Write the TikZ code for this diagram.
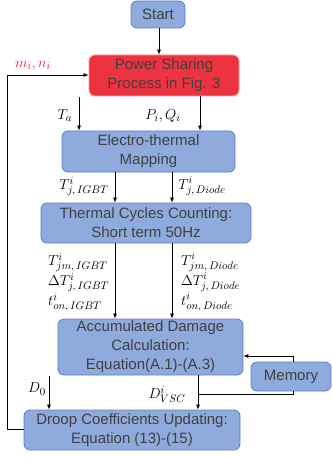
\documentclass[tikz,border=0pt]{standalone}
\usepackage{fontspec}
\setmainfont{Liberation Sans}
\usetikzlibrary{arrows.meta}
\definecolor{boxblue}{HTML}{8FAADC}
\definecolor{edgeblue}{HTML}{5B7FC4}
\definecolor{boxred}{HTML}{EE3340}
\definecolor{edgered}{HTML}{F59A9A}
\definecolor{txt}{HTML}{404040}
\definecolor{lblred}{HTML}{E8202C}
\tikzset{
  x=1pt, y=-1pt,
  blk/.style={draw=edgeblue, fill=boxblue, rounded corners=6pt, line width=0.8pt,
    text=txt, align=center, inner sep=0pt, font=\fontsize{15}{19}\selectfont},
  redblk/.style={blk, draw=edgered, fill=boxred},
  conn/.style={line width=0.7pt, -{Latex[length=5pt,width=4pt]}},
  plain/.style={line width=0.7pt},
  lbl/.style={inner sep=0pt, font=\fontsize{15.5}{20}\selectfont},
  stack/.style={lbl, align=left, anchor=west},
}
\begin{document}
\begin{tikzpicture}
\useasboundingbox (0,0) rectangle (332,457);
\node[blk, minimum width=54pt, minimum height=27pt] (start) at (158,14.5) {Start};
\node[redblk, minimum width=150pt, minimum height=41pt] (ps) at (164,75.5) {Power Sharing\\Process in Fig. 3};
\node[blk, minimum width=173pt, minimum height=41pt] (et) at (148.5,151.5) {Electro-thermal\\Mapping};
\node[blk, minimum width=210pt, minimum height=40pt] (tcc) at (146,223) {Thermal Cycles Counting:\\Short term 50Hz};
\node[blk, minimum width=185pt, minimum height=56pt] (adc) at (150.5,347) {Accumulated Damage\\Calculation:\\Equation(A.1)-(A.3)};
\node[blk, minimum width=80pt, minimum height=29pt] (mem) at (291,376.5) {Memory};
\node[blk, minimum width=216pt, minimum height=40pt] (dr) at (132,430) {Droop Coefficients Updating:\\Equation (13)-(15)};

\coordinate (ta) at (79,97);
\coordinate (d0) at (49,376);
\coordinate (fbl) at (7,429);
\coordinate (fbt) at (7,75);
\coordinate (memtop) at (293,356);
\coordinate (membot) at (293,394);
\coordinate (join) at (198,394);

\draw[conn] (start.south -| 159,0) -- (ps.north -| 159,0);
\draw[conn] (ta) -- (et.north -| ta);
\draw[conn] (ps.south -| 200,0) -- (et.north -| 200,0);
\draw[conn] (et.south -| 115,0) -- (tcc.north -| 115,0);
\draw[conn] (et.south -| 172,0) -- (tcc.north -| 172,0);
\draw[conn] (tcc.south -| 115,0) -- (adc.north -| 115,0);
\draw[conn] (tcc.south -| 172,0) -- (adc.north -| 172,0);
\draw[conn] (adc.south -| join) -- (dr.north -| join);
\draw[conn] (d0) -- (dr.north -| d0);
\draw[conn] (mem.north -| memtop) -- (memtop) -- (adc.east |- memtop);
\draw[plain] (mem.south -| membot) -- (membot) -- (join);
\draw[conn] (dr.west |- fbl) -- (fbl) -- (fbt) -- (ps.west |- fbt);

\node[lbl, text=lblred] (mn) at (33,66) {$m_i,n_i$};
\node[lbl] (tal) at (65,116) {$T_a$};
\node[lbl] (pq) at (163,116) {$P_i,Q_i$};
\node[lbl] (tji) at (84,186) {$T^{i}_{j,\,IGBT}$};
\node[lbl] (tjd) at (202,186) {$T^{i}_{j,\,Diode}$};
\node[stack] (lstack) at (48,282) {$T^{i}_{jm,\,IGBT}$\\$\Delta T^{i}_{j,\,IGBT}$\\$t^{i}_{on,\,IGBT}$};
\node[stack] (rstack) at (181,282) {$T^{i}_{jm,\,Diode}$\\$\Delta T^{i}_{j,\,Diode}$\\$t^{i}_{on,\,Diode}$};
\node[lbl] (d0l) at (37,389) {$D_0$};
\node[lbl] (dvsc) at (167,394) {$D^{i}_{VSC}$};
\end{tikzpicture}
\end{document}
